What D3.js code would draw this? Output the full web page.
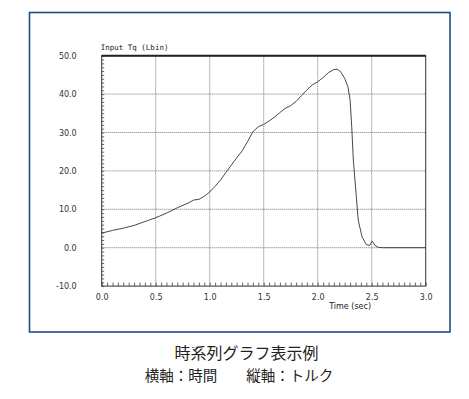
<!DOCTYPE html>
<html>
<head>
<meta charset="utf-8">
<script src="https://cdn.jsdelivr.net/npm/d3@7"></script>
<style>
  body { margin: 0; background: #fff; }
  svg { display: block; }
</style>
</head>
<body>
<div id="chart"></div>
<script>
// time (sec) and input torque (Lbin)
const times = [0.0, 0.1, 0.2, 0.3, 0.4, 0.5, 0.6, 0.7, 0.8, 0.85, 0.9, 0.95, 1.0, 1.05, 1.1, 1.15, 1.2, 1.25, 1.3, 1.35, 1.4, 1.45, 1.5, 1.55, 1.6, 1.65, 1.7, 1.75, 1.8, 1.85, 1.9, 1.95, 2.0, 2.05, 2.1, 2.15, 2.18, 2.21, 2.25, 2.28, 2.3, 2.315, 2.33, 2.355, 2.375, 2.41, 2.45, 2.48, 2.505, 2.53, 2.56, 2.6, 3.0];
const torque = [3.8, 4.5, 5.1, 5.8, 6.8, 7.8, 9.0, 10.4, 11.6, 12.4, 12.6, 13.4, 14.5, 16.0, 17.6, 19.6, 21.5, 23.4, 25.2, 27.6, 30.2, 31.5, 32.1, 33.0, 34.0, 35.2, 36.3, 37.0, 38.1, 39.6, 41.1, 42.4, 43.2, 44.3, 45.6, 46.4, 46.5, 45.9, 44.1, 41.9, 38.5, 31.5, 22.8, 14.2, 7.2, 2.9, 0.8, 0.6, 1.7, 0.6, 0.1, 0.0, 0.0];

const xTicks = [0.0, 0.5, 1.0, 1.5, 2.0, 2.5, 3.0];
const yTicks = [-10, 0, 10, 20, 30, 40, 50];
const captionLines = ['時系列グラフ表示例', '横軸：時間　　縦軸：トルク'];

const W = 469, H = 399;
const margin = { left: 101.7, top: 55.7 };
const pw = 324, ph = 230.4;

const svg = d3.select('#chart').append('svg')
    .attr('width', W)
    .attr('height', H);

// outer frame
svg.append('rect')
    .attr('x', 29.5).attr('y', 12.5)
    .attr('width', 420.5).attr('height', 319.5)
    .attr('fill', 'none')
    .attr('stroke', '#1d4c8a')
    .attr('stroke-width', 1.6);

const x = d3.scaleLinear().domain([0, 3]).range([0, pw]);
const y = d3.scaleLinear().domain([-10, 50]).range([ph, 0]);

const g = svg.append('g')
    .attr('transform', `translate(${margin.left},${margin.top})`);

// dotted grid
g.selectAll('.vgrid')
    .data(xTicks.slice(1, -1))
    .enter().append('line')
    .attr('x1', d => x(d)).attr('x2', d => x(d))
    .attr('y1', 0).attr('y2', ph)
    .attr('stroke', '#666')
    .attr('stroke-width', 0.9)
    .attr('stroke-dasharray', '1,1');

g.selectAll('.hgrid')
    .data(yTicks.slice(1, -1))
    .enter().append('line')
    .attr('x1', 0).attr('x2', pw)
    .attr('y1', d => y(d)).attr('y2', d => y(d))
    .attr('stroke', '#666')
    .attr('stroke-width', 0.9)
    .attr('stroke-dasharray', '1,1');

// minor ticks inside the frame
g.append('g')
    .call(d3.axisLeft(y).tickValues(d3.range(-10, 50.5, 1)).tickSize(-2.5).tickFormat(''))
    .call(a => a.select('.domain').remove())
    .selectAll('line').attr('stroke', '#444').attr('stroke-width', 0.8);

g.append('g')
    .attr('transform', `translate(0,${ph})`)
    .call(d3.axisBottom(x).tickValues(d3.range(0, 3.001, 0.05)).tickSize(-3.5).tickFormat(''))
    .call(a => a.select('.domain').remove())
    .selectAll('line').attr('stroke', '#444').attr('stroke-width', 0.8);

// tick labels
const yAxis = g.append('g')
    .call(d3.axisLeft(y).tickValues(yTicks).tickSize(0).tickPadding(25)
        .tickFormat(d => d3.format('.1f')(d).replace('−', '-')));
yAxis.select('.domain').remove();
yAxis.selectAll('text')
    .style('font-family', 'DejaVu Sans, sans-serif')
    .style('font-size', '8px')
    .style('fill', '#333');

const xAxis = g.append('g')
    .attr('transform', `translate(0,${ph})`)
    .call(d3.axisBottom(x).tickValues(xTicks).tickSize(0).tickPadding(8)
        .tickFormat(d3.format('.1f')));
xAxis.select('.domain').remove();
xAxis.selectAll('text')
    .style('font-family', 'DejaVu Sans, sans-serif')
    .style('font-size', '8px')
    .style('fill', '#333');

// plot frame
g.append('rect')
    .attr('width', pw).attr('height', ph)
    .attr('fill', 'none')
    .attr('stroke', '#333')
    .attr('stroke-width', 1);
g.append('line')
    .attr('x1', 0).attr('x2', pw)
    .attr('y1', 0).attr('y2', 0)
    .attr('stroke', '#222')
    .attr('stroke-width', 2);

// trace
const points = times.map((t, i) => [t, torque[i]]);
g.append('path')
    .datum(points)
    .attr('fill', 'none')
    .attr('stroke', '#333')
    .attr('stroke-width', 0.9)
    .attr('d', d3.line().x(d => x(d[0])).y(d => y(d[1])));

// axis titles
g.append('text')
    .attr('x', -1).attr('y', -6)
    .style('font-family', 'DejaVu Sans Mono, monospace')
    .style('font-size', '7.5px')
    .style('fill', '#222')
    .text('Input Tq (Lbin)');

g.append('text')
    .attr('x', x(2.3)).attr('y', ph + 22.5)
    .attr('text-anchor', 'middle')
    .style('font-family', 'DejaVu Sans, sans-serif')
    .style('font-size', '8px')
    .style('fill', '#222')
    .text('Time (sec)');

// caption
svg.selectAll('.caption')
    .data(captionLines)
    .enter().append('text')
    .attr('class', 'caption')
    .attr('x', (d, i) => i === 0 ? 246.5 : 239)
    .attr('y', (d, i) => i === 0 ? 359 : 381)
    .attr('text-anchor', 'middle')
    .style('font-family', 'Noto Sans CJK JP, sans-serif')
    .style('font-size', (d, i) => i === 0 ? '16px' : '14.5px')
    .style('fill', '#222')
    .text(d => d);
</script>
</body>
</html>
